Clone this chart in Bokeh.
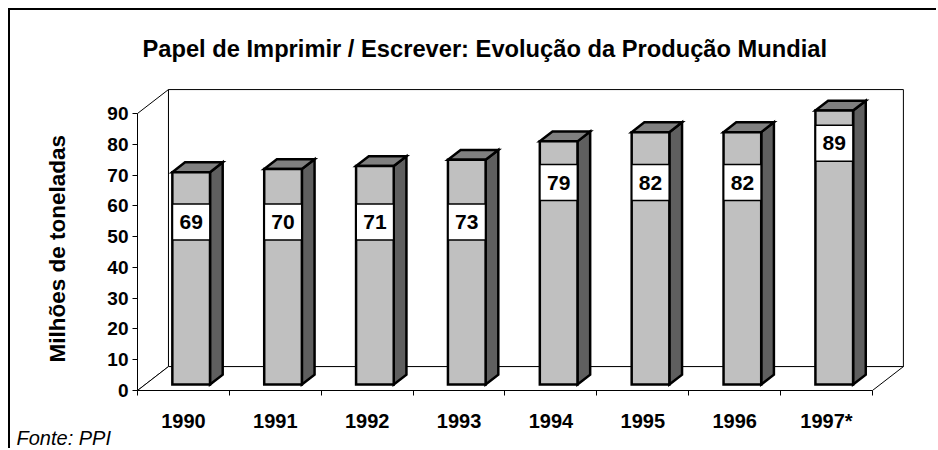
from bokeh.plotting import figure
from bokeh.models import FixedTicker, Range1d, Title, ColumnDataSource
from bokeh.core.properties import value
from bokeh.embed import file_html
from bokeh.resources import INLINE

# ---- data ----
years = ["1990", "1991", "1992", "1993", "1994", "1995", "1996", "1997*"]
production = [69, 70, 71, 73, 79, 82, 82, 89]
y_ticks = [0, 10, 20, 30, 40, 50, 60, 70, 80, 90]
title_text = "Papel de Imprimir / Escrever: Evolução da Produção Mundial"
y_label = "Milhões de toneladas"
source_text = "Fonte: PPI"

# ---- 3D geometry (depth offsets in data units) ----
N = len(years)
YMAX = 90
DX = 0.337   # depth shift in category units
DY = 7.77    # depth shift in value units
T0, T1 = 0.25, 0.66   # bar depth (front, back) as fraction of full depth
W = 0.41              # bar width (category units)

FONT = "Liberation Sans"
FRONT = "#c0c0c0"
SIDE = "#5f5f5f"
TOP = "#808080"

p = figure(width=928, height=440, output_backend="svg", toolbar_location=None,
           x_range=Range1d(0, N + DX + 0.012), y_range=Range1d(0, YMAX + DY + 0.35),
           min_border_left=127, min_border_right=34, min_border_top=78, min_border_bottom=60)
p.styles = {"margin-left": "8px", "margin-top": "8px",
            "border-top": "2px solid #000", "border-left": "2px solid #000"}
p.outline_line_color = None
p.background_fill_color = "white"
p.border_fill_color = "white"
p.xgrid.visible = False
p.ygrid.visible = False

# walls and floor
p.quad(left=[DX], right=[N + DX], bottom=[DY], top=[YMAX + DY],
       fill_color="white", line_color="black", line_width=1)
p.patch([0, DX, DX, 0], [0, DY, YMAX + DY, YMAX],
        fill_color="white", line_color="black", line_width=1)
p.patch([0, N, N + DX, DX], [0, 0, DY, DY],
        fill_color="white", line_color="black", line_width=1)

# bars
front_xs, front_ys, side_xs, side_ys, top_xs, top_ys = [], [], [], [], [], []
for i, v in enumerate(production):
    xl = i + 0.5 - W / 2
    xr = i + 0.5 + W / 2
    a0x, a0y = T0 * DX, T0 * DY
    a1x, a1y = T1 * DX, T1 * DY
    front_xs.append([xl + a0x, xr + a0x, xr + a0x, xl + a0x])
    front_ys.append([a0y, a0y, v + a0y, v + a0y])
    side_xs.append([xr + a0x, xr + a1x, xr + a1x, xr + a0x])
    side_ys.append([a0y, a1y, v + a1y, v + a0y])
    top_xs.append([xl + a0x, xr + a0x, xr + a1x, xl + a1x])
    top_ys.append([v + a0y, v + a0y, v + a1y, v + a1y])

for xs, ys, col in [(side_xs, side_ys, SIDE), (top_xs, top_ys, TOP), (front_xs, front_ys, FRONT)]:
    p.patches(xs, ys, fill_color=col, line_color="black", line_width=2.5, line_join="miter")

# value labels (Excel-like placement bands)
lab_x = [i + 0.5 + T0 * DX for i in range(N)]
lab_y = [12.8 * ((v + 1) // 10) - 36.8 + T0 * DY for v in production]
src = ColumnDataSource(dict(x=lab_x, y=lab_y, t=[str(v) for v in production]))
p.text(x="x", y="y", text="t", source=src, text_align="center", text_baseline="middle",
       text_font=value(FONT), text_font_style="bold", text_font_size="21px", text_color="black",
       background_fill_color="white", border_line_color="black", border_line_width=1.5,
       padding=dict(left=7, right=7, top=11, bottom=11))

# y axis
p.yaxis.ticker = FixedTicker(ticks=y_ticks, minor_ticks=[])
p.yaxis.bounds = (0, YMAX)
p.yaxis.major_tick_out = 5
p.yaxis.major_tick_in = 0
p.yaxis.major_tick_line_color = "black"
p.yaxis.axis_line_color = "black"
p.yaxis.major_label_text_font = FONT
p.yaxis.major_label_text_font_style = "bold"
p.yaxis.major_label_text_font_size = "19px"
p.yaxis.major_label_text_color = "black"
p.yaxis.major_label_standoff = 4

p.add_layout(Title(text=y_label, align="left", offset=28, standoff=65, vertical_align="top",
                   text_font=FONT, text_font_style="bold", text_font_size="22.5px",
                   text_color="black"), "left")

# x axis
centers = [i + 0.5 for i in range(N)]
p.xaxis.ticker = FixedTicker(ticks=centers, minor_ticks=list(range(N + 1)))
p.xaxis.bounds = (0, N)
p.xaxis.major_label_overrides = {c: y for c, y in zip(centers, years)}
p.xaxis.major_tick_line_color = None
p.xaxis.major_tick_out = 0
p.xaxis.major_tick_in = 0
p.xaxis.minor_tick_out = 5
p.xaxis.minor_tick_in = 0
p.xaxis.minor_tick_line_color = "black"
p.xaxis.axis_line_color = "black"
p.xaxis.major_label_text_font = FONT
p.xaxis.major_label_text_font_style = "bold"
p.xaxis.major_label_text_font_size = "20px"
p.xaxis.major_label_text_color = "black"
p.xaxis.major_label_standoff = 14

# title and source
p.title.text = title_text
p.title.align = "left"
p.title.offset = 5
p.title.vertical_align = "top"
p.title.text_font = FONT
p.title.text_font_style = "bold"
p.title.text_font_size = "23.7px"
p.title.text_color = "black"
p.title.standoff = 50

p.add_layout(Title(text=source_text, align="left", offset=-121, standoff=-19,
                   text_font=FONT, text_font_style="italic", text_font_size="20px",
                   text_color="black"), "below")

open("out.html", "w").write(file_html(p, INLINE))
